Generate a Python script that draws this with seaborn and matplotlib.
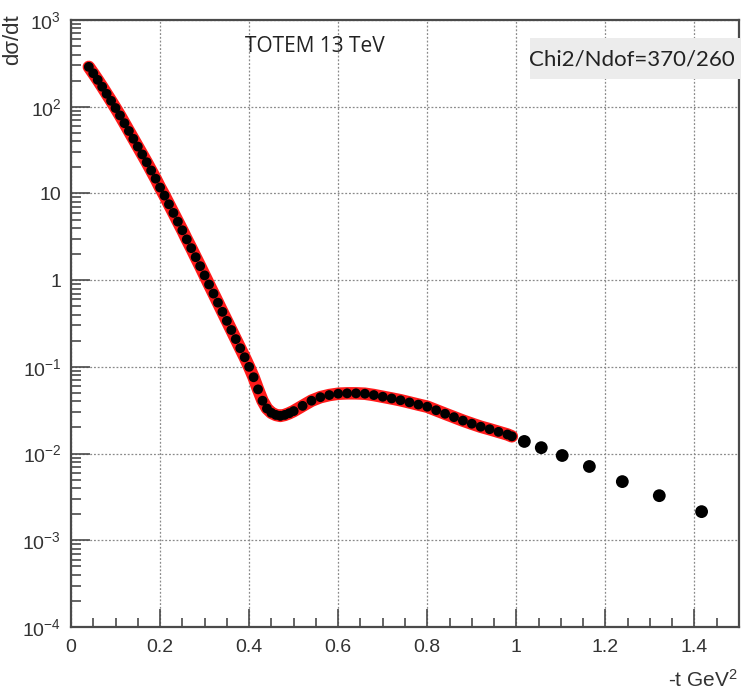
import numpy as np
import pandas as pd
import matplotlib
matplotlib.use("Agg")
import matplotlib.pyplot as plt
import matplotlib.ticker as mticker
from matplotlib.patches import Rectangle
import seaborn as sns

# ---- data (|t| in GeV^2, dsigma/dt) ----
t_data = [0.04, 0.05, 0.06, 0.07, 0.08, 0.09, 0.10, 0.11, 0.12, 0.13,
          0.14, 0.15, 0.16, 0.17, 0.18, 0.19, 0.20, 0.21, 0.22, 0.23,
          0.24, 0.25, 0.26, 0.27, 0.28, 0.29, 0.30, 0.31, 0.32, 0.33,
          0.34, 0.35, 0.36, 0.37, 0.38, 0.39, 0.40, 0.41, 0.42, 0.43,
          0.44, 0.45, 0.46, 0.47, 0.48, 0.49, 0.50, 0.52, 0.54, 0.56,
          0.58, 0.60, 0.62, 0.64, 0.66, 0.68, 0.70, 0.72, 0.74, 0.76,
          0.78, 0.80, 0.82, 0.84, 0.86, 0.88, 0.90, 0.92, 0.94, 0.96,
          0.98, 0.99]
y_data = [288, 243, 204, 170, 141, 117, 96.6, 79.4, 64.6, 52.5,
          42.7, 34.7, 28.2, 22.9, 18.4, 14.8, 11.7, 9.44, 7.50, 5.96,
          4.73, 3.76, 2.95, 2.34, 1.84, 1.45, 1.135, 0.891, 0.700, 0.550,
          0.431, 0.339, 0.266, 0.209, 0.164, 0.129, 0.100, 0.0759, 0.0550, 0.0407,
          0.0331, 0.0295, 0.0279, 0.0272, 0.0279, 0.0292, 0.0309, 0.0355, 0.0407, 0.0447,
          0.0473, 0.0490, 0.0495, 0.0495, 0.0490, 0.0473, 0.0452, 0.0432, 0.0412, 0.0389,
          0.0367, 0.0347, 0.0316, 0.0288, 0.0263, 0.0240, 0.0221, 0.0204, 0.0191, 0.0178,
          0.0166, 0.0158]
t_tail = [1.018, 1.056, 1.103, 1.164, 1.238, 1.321, 1.416]
y_tail = [0.0138, 0.0117, 0.0095, 0.0071, 0.00475, 0.00327, 0.00214]

x_ticks = [0, 0.2, 0.4, 0.6, 0.8, 1.0, 1.2, 1.4]
x_tick_labels = ["0", "0.2", "0.4", "0.6", "0.8", "1", "1.2", "1.4"]
y_ticks = [1e-4, 1e-3, 1e-2, 1e-1, 1, 10, 1e2, 1e3]
y_tick_labels = [r"$10^{-4}$", r"$10^{-3}$", r"$10^{-2}$", r"$10^{-1}$", "1", "10",
                 r"$10^{2}$", r"$10^{3}$"]

title_text = "TOTEM 13 TeV"
chi_text = "Chi2/Ndof=370/260"

df = pd.DataFrame({"t": t_data, "y": y_data})
df_tail = pd.DataFrame({"t": t_tail, "y": y_tail})

sns.set_style("white")
plt.rcParams["font.family"] = ["Liberation Sans", "DejaVu Sans"]
plt.rcParams["mathtext.fontset"] = "custom"
plt.rcParams["mathtext.rm"] = "Liberation Sans"
plt.rcParams["mathtext.it"] = "Liberation Sans:italic"

fig = plt.figure(figsize=(7.43, 6.96), dpi=100)
ax = fig.add_axes([71 / 743, 1 - 627 / 696, 668 / 743, 607 / 696])

frame_col = "#4a4a4a"

# fit (red) underneath, data (black) on top
sns.lineplot(data=df, x="t", y="y", ax=ax, color="#ff1a1a", lw=9,
             sort=False, estimator=None, zorder=3)
sns.scatterplot(data=df, x="t", y="y", ax=ax, color="black", s=50,
                edgecolor="none", zorder=4)
sns.scatterplot(data=df_tail, x="t", y="y", ax=ax, color="black", s=85,
                edgecolor="none", zorder=4)

ax.set_yscale("log")
ax.set_xlim(0, 1.5)
ax.set_ylim(1e-4, 1e3)

ax.xaxis.set_major_locator(mticker.FixedLocator(x_ticks))
ax.set_xticklabels(x_tick_labels)
ax.xaxis.set_minor_locator(mticker.MultipleLocator(0.05))
ax.yaxis.set_major_locator(mticker.FixedLocator(y_ticks))
ax.set_yticklabels(y_tick_labels)
ax.yaxis.set_minor_locator(mticker.LogLocator(base=10, subs=np.arange(2, 10)))
ax.yaxis.set_minor_formatter(mticker.NullFormatter())

ax.tick_params(axis="x", which="major", direction="in", length=13, width=1.2,
               color=frame_col, labelsize=14, pad=9, bottom=True, top=False)
ax.tick_params(axis="x", which="minor", direction="in", length=6.5, width=1.2,
               color=frame_col, bottom=True, top=False)
ax.tick_params(axis="y", which="major", direction="in", length=14, width=1.2,
               color=frame_col, labelsize=14, pad=7, left=True, right=False)
ax.tick_params(axis="y", which="minor", direction="in", length=7, width=1.2,
               color=frame_col, left=True, right=False)
for lab in ax.get_xticklabels() + ax.get_yticklabels():
    lab.set_color("#333333")

ax.grid(True, which="major", linestyle=(0, (1.5, 1.5)), color="#8a8a8a", lw=0.9)
ax.grid(False, which="minor")
for sp in ax.spines.values():
    sp.set_color(frame_col)
    sp.set_linewidth(1.6)
    sp.set_visible(True)

ax.set_xlabel("")
ax.set_ylabel("dσ/dt", fontsize=16, loc="top", color="#333333")
ax.yaxis.set_label_coords(-0.072, 1.01)

fig.text(738 / 743, 1 - 680 / 696, r"-t GeV$^{2}$", ha="right", va="center",
         fontsize=15, color="#333333")

fig.text(315 / 743, 1 - 47 / 696, title_text, ha="center", va="center",
         fontsize=15, color="#222222", family=["Open Sans", "DejaVu Sans"])

fig.patches.append(Rectangle((530 / 743, 1 - 79 / 696), 210 / 743, 41 / 696,
                             transform=fig.transFigure, facecolor="#ececec",
                             edgecolor="none", zorder=5))
fig.text(632 / 743, 1 - 59 / 696, chi_text, ha="center", va="center",
         fontsize=16, color="#222222", family=["Lato", "DejaVu Sans"], zorder=6)

fig.savefig("out.png", dpi=100)
